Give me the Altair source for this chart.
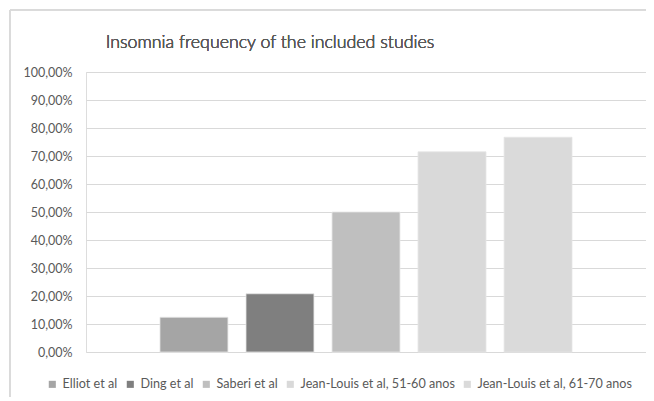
import altair as alt
import pandas as pd

studies = ["Elliot et al", "Ding et al", "Saberi et al",
           "Jean-Louis et al, 51-60 anos", "Jean-Louis et al, 61-70 anos"]
values = [0.124, 0.208, 0.500, 0.715, 0.767]
colors = ["#a5a5a5", "#7f7f7f", "#bfbfbf", "#d9d9d9", "#dadada"]
y_ticks = [0, 0.1, 0.2, 0.3, 0.4, 0.5, 0.6, 0.7, 0.8, 0.9, 1.0]
title_text = "Insomnia frequency of the included studies"

df = pd.DataFrame({"study": studies, "value": values})
FONT = "Lato"
TXT = "#595959"

bars = alt.Chart(df).mark_bar(stroke="#e6e6e6", strokeWidth=0.8).encode(
    x=alt.X("study:N", sort=studies, axis=None,
            scale=alt.Scale(paddingInner=0.21, paddingOuter=0.86)),
    y=alt.Y("value:Q",
            scale=alt.Scale(domain=[0, 1]),
            axis=alt.Axis(values=y_ticks, title=None, domain=False, ticks=False,
                          labelExpr="replace(format(datum.value, '.2%'), '.', ',')",
                          labelPadding=14, labelFont=FONT, labelFontSize=12.5,
                          labelColor=TXT, gridColor="#d9d9d9", gridWidth=1)),
    color=alt.Color("study:N", sort=studies,
                    scale=alt.Scale(domain=studies, range=colors),
                    legend=alt.Legend(title=None, orient="none", direction="horizontal",
                                      columns=5, legendX=-40, legendY=306,
                                      symbolType="square", symbolSize=50,
                                      symbolStrokeWidth=0, labelFont=FONT,
                                      labelFontSize=12.6, labelColor=TXT,
                                      columnPadding=6, labelOffset=4,
                                      labelLimit=300))
)

frame_left = alt.Chart(df).mark_rule(color="#d9d9d9").encode(
    x=alt.value(-76), y=alt.value(-62), y2=alt.value(340))
frame_top = alt.Chart(df).mark_rule(color="#d9d9d9").encode(
    x=alt.value(-76), x2=alt.value(600), y=alt.value(-62))
title = alt.Chart(df).mark_text(
    font=FONT, fontSize=17.8, fontWeight=300, color=TXT,
    align="center", baseline="alphabetic"
).encode(x=alt.value(184), y=alt.value(-24), text=alt.value(title_text))

chart = alt.layer(frame_left, frame_top, title, bars).properties(
    width=560, height=280,
    autosize=alt.AutoSizeParams(type="none"),
    padding={"left": 78, "top": 64, "right": 0, "bottom": 45},
).configure_view(stroke=None).configure(background="white")

chart.save("out.html", embed_options={"renderer": "svg", "actions": False})
